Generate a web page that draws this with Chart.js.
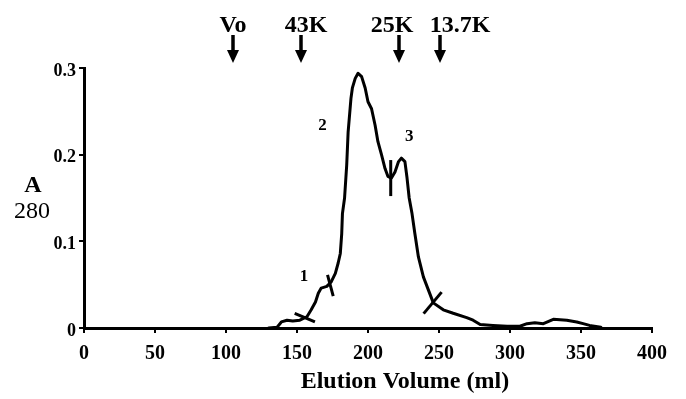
<!DOCTYPE html>
<html>
<head>
<meta charset="utf-8">
<title>Elution profile</title>
<script src="https://cdn.jsdelivr.net/npm/chart.js@4.4.1/dist/chart.umd.min.js"></script>
<style>
    html, body { margin: 0; padding: 0; background: #fff; }
    #wrap { width: 686px; height: 399px; position: relative; }
</style>
</head>
<body>
<div id="wrap"><canvas id="elutionChart"></canvas></div>
<script>
// elution volume (ml) and absorbance at 280 nm
const volume = [130, 136, 139, 143, 147, 152, 157, 160, 163, 165, 167, 171, 174, 177, 179, 180.5, 181.5,
    182, 183.5, 185, 186, 188, 189, 191, 193, 195.5, 198, 200, 202.5, 205, 207, 209.5, 212, 214, 216.5,
    219, 221.5, 223.5, 226, 227.5, 229, 231, 233, 235.5, 239, 242.5, 246, 253, 260, 269.5, 274, 279,
    288, 298, 307, 312, 317.5, 323.5, 330.5, 340, 347, 351.5, 356, 364];
const a280 = [0, 0.001, 0.007, 0.009, 0.008, 0.009, 0.013, 0.021, 0.030, 0.040, 0.046, 0.048, 0.053, 0.063, 0.075, 0.086, 0.109,
    0.132, 0.150, 0.188, 0.226, 0.265, 0.277, 0.288, 0.294, 0.290, 0.277, 0.261, 0.253, 0.234, 0.215, 0.200, 0.184, 0.175, 0.173,
    0.180, 0.192, 0.196, 0.192, 0.173, 0.150, 0.132, 0.109, 0.082, 0.059, 0.044, 0.029, 0.021, 0.017, 0.012, 0.009, 0.004,
    0.003, 0.002, 0.002, 0.005, 0.006, 0.005, 0.010, 0.009, 0.007, 0.005, 0.003, 0.001];

// fraction cuts along the curve
const cutVolume = [155.5, 173.5, 216, 245.5];
const cutA280 = [0.012, 0.049, 0.173, 0.029];
const cutAngle = [23, 75, 90, -50];
const cutSize = [11, 11, 18, 14];

// pool numbers
const poolLabels = ['1', '2', '3'];
const poolVolume = [155, 168, 229];
const poolA280 = [0.059, 0.233, 0.221];

// calibration markers
const markerLabels = ['Vo', '43K', '25K', '13.7K'];
const markerVolume = [105, 153, 222, 251];

const xTicks = [0, 50, 100, 150, 200, 250, 300, 350, 400];
const yTicks = [0, 0.1, 0.2, 0.3];

const serif = '"Liberation Serif", "DejaVu Serif", serif';

const annotations = {
    id: 'annotations',
    afterDraw(chart) {
        const ctx = chart.ctx;
        const x = chart.scales.x;
        const y = chart.scales.y;
        ctx.save();
        ctx.fillStyle = '#000';
        ctx.strokeStyle = '#000';

        // markers with arrows above the plot
        const labelShift = [0, 5, -7, 20];
        ctx.font = 'bold 24px ' + serif;
        ctx.textAlign = 'center';
        ctx.textBaseline = 'alphabetic';
        markerVolume.forEach((v, i) => {
            const px = Math.round(x.getPixelForValue(v));
            ctx.fillText(markerLabels[i], px + labelShift[i], 32);
            ctx.lineWidth = 3.5;
            ctx.beginPath();
            ctx.moveTo(px, 35);
            ctx.lineTo(px, 52);
            ctx.stroke();
            ctx.beginPath();
            ctx.moveTo(px - 6, 50);
            ctx.lineTo(px + 6, 50);
            ctx.lineTo(px, 63);
            ctx.closePath();
            ctx.fill();
        });

        // pool numbers
        ctx.font = 'bold 17px ' + serif;
        ctx.textBaseline = 'middle';
        poolLabels.forEach((t, i) => {
            ctx.fillText(t, x.getPixelForValue(poolVolume[i]), y.getPixelForValue(poolA280[i]));
        });

        // axis titles
        ctx.font = 'bold 24px ' + serif;
        ctx.fillText('Elution Volume (ml)', x.getPixelForValue(226), 382);
        ctx.fillText('A', 33, 186);
        ctx.font = '24px ' + serif;
        ctx.fillText('280', 32, 212);
        ctx.restore();
    }
};

const ctx = document.getElementById('elutionChart').getContext('2d');
new Chart(ctx, {
    type: 'line',
    data: {
        datasets: [{
            label: 'A280',
            data: volume.map((v, i) => ({ x: v, y: a280[i] })),
            borderColor: '#000',
            borderWidth: 3,
            borderJoinStyle: 'round',
            borderCapStyle: 'round',
            pointRadius: 0,
            tension: 0,
            fill: false
        }, {
            label: 'cuts',
            data: cutVolume.map((v, i) => ({ x: v, y: cutA280[i] })),
            showLine: false,
            pointStyle: 'line',
            pointRotation: cutAngle,
            pointRadius: cutSize,
            pointBorderWidth: 3,
            borderColor: '#000',
            backgroundColor: '#000'
        }]
    },
    options: {
        responsive: true,
        maintainAspectRatio: false,
        animation: false,
        layout: { padding: { top: 68, right: 34, left: 0, bottom: 0 } },
        plugins: {
            legend: { display: false },
            tooltip: { enabled: false }
        },
        scales: {
            x: {
                type: 'linear',
                min: 0,
                max: 400,
                afterFit: s => { s.height = 71; },
                afterBuildTicks: s => { s.ticks = xTicks.map(v => ({ value: v })); },
                ticks: {
                    color: '#000',
                    padding: 9,
                    font: { family: serif, size: 20, weight: 'bold' }
                },
                grid: { drawOnChartArea: false, color: '#000', lineWidth: 2, tickLength: 5 },
                border: { color: '#000', width: 3 }
            },
            y: {
                min: 0,
                max: 0.3,
                afterFit: s => { s.width = 84; },
                afterBuildTicks: s => { s.ticks = yTicks.map(v => ({ value: v })); },
                ticks: {
                    color: '#000',
                    padding: 3,
                    labelOffset: 3,
                    font: { family: serif, size: 18, weight: 'bold' },
                    callback: v => v === 0 ? '0' : v.toFixed(1)
                },
                grid: { drawOnChartArea: false, color: '#000', lineWidth: 2, tickLength: 5 },
                border: { color: '#000', width: 3 }
            }
        }
    },
    plugins: [annotations]
});
</script>
</body>
</html>
